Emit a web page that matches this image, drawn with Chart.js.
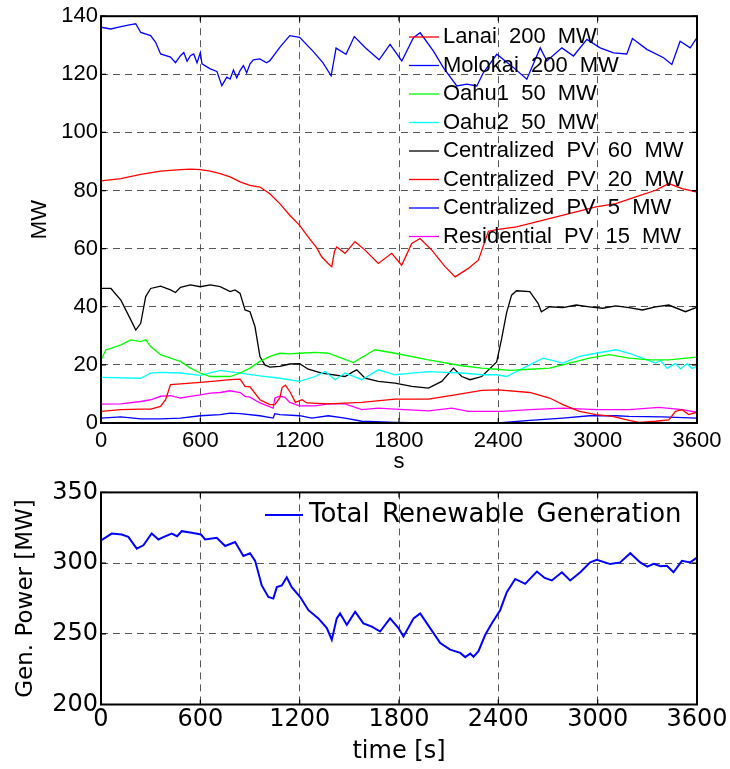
<!DOCTYPE html>
<html lang="en">
<head>
<meta charset="UTF-8">
<title>Renewable generation</title>
<script src="https://cdn.jsdelivr.net/npm/chart.js"></script>
<style>
  body { margin: 0; background: #fff; }
  .wrap { position: relative; width: 730px; height: 769px; }
  #topChart { position: absolute; left: 0; top: 0; }
  #bottomChart { position: absolute; left: 0; top: 475px; }
</style>
</head>
<body>
<div class="wrap">
  <canvas id="topChart" width="730" height="475"></canvas>
  <canvas id="bottomChart" width="730" height="294"></canvas>
</div>
<script>
// ---- data (time in s, power in MW) ----
const xTicks = [0, 600, 1200, 1800, 2400, 3000, 3600];
const topYTicks = [0, 20, 40, 60, 80, 100, 120, 140];
const bottomYTicks = [200, 250, 300, 350];

const lanaiT = [0, 120, 240, 360, 480, 540, 600, 660, 720, 780, 840, 900, 960, 1020, 1080, 1140, 1200, 1252, 1300, 1333, 1370, 1394, 1410, 1424, 1474, 1534, 1595, 1675, 1756, 1816, 1877, 1927, 1998, 2078, 2139, 2219, 2280, 2340, 2400, 2510, 2630, 2750, 2870, 2990, 3110, 3230, 3350, 3430, 3510, 3600];
const lanaiMW = [83.3, 84.1, 85.6, 86.7, 87.2, 87.4, 87.2, 86.7, 85.8, 84.7, 83, 81.8, 81.2, 78.9, 75.5, 71.5, 68, 64, 60.5, 57.2, 55, 53.8, 59, 60.6, 58.4, 62.4, 59.5, 54.9, 58.4, 54.3, 61.8, 63.5, 59.5, 53.8, 50.3, 53.2, 56.1, 66, 66.6, 67.5, 69.2, 70.9, 72.7, 74.4, 75.5, 77.8, 80.1, 82.4, 80.7, 79.5];

const molokaiT = [0, 60, 120, 180, 210, 240, 300, 330, 360, 420, 450, 480, 500, 520, 540, 560, 580, 600, 610, 660, 700, 730, 760, 780, 800, 820, 840, 860, 880, 900, 920, 960, 1000, 1020, 1080, 1140, 1200, 1280, 1340, 1390, 1420, 1480, 1530, 1600, 1680, 1746, 1817, 1887, 1928, 2008, 2068, 2149, 2210, 2270, 2310, 2391, 2492, 2572, 2653, 2693, 2784, 2854, 2935, 3015, 3096, 3176, 3210, 3297, 3398, 3448, 3498, 3559, 3600];
const molokaiMW = [136.2, 135.6, 136.4, 137.1, 137.4, 134.4, 133.3, 131, 127, 125.9, 124, 126.4, 127.5, 124.5, 126.4, 127, 124, 127.5, 123.6, 121.9, 121, 116.1, 119, 118.4, 121.5, 118.8, 121.3, 123, 120.5, 123.6, 125, 125.3, 124, 124.7, 129.3, 133.3, 132.7, 128, 124, 119.5, 129, 126.9, 133, 129, 125, 130.3, 124.6, 132.6, 134.3, 128, 122.3, 116, 116.6, 116, 120.6, 126.9, 122.3, 118.3, 129.1, 124.6, 129.1, 126.3, 132, 129.1, 127.4, 127, 132.3, 128.6, 125.7, 123.4, 131.4, 129.1, 132.6];

const oahu1T = [0, 30, 60, 120, 180, 240, 270, 300, 360, 420, 480, 540, 600, 660, 720, 780, 840, 900, 960, 1020, 1080, 1140, 1200, 1293, 1373, 1454, 1524, 1655, 1776, 1978, 2179, 2300, 2390, 2470, 2590, 2710, 2830, 2950, 3070, 3190, 3310, 3430, 3600];
const oahu1MW = [21.7, 25.2, 25.7, 26.9, 28.6, 28, 28.6, 26.3, 23.5, 22.3, 21.2, 18.9, 17.2, 16, 16, 16, 17.2, 18.9, 21.2, 22.9, 24, 23.8, 24, 24.3, 24, 22.3, 20.8, 25.2, 24, 21.7, 19.7, 18.9, 18.5, 18.1, 18.5, 18.9, 20.6, 22.3, 23.5, 22.3, 21.7, 21.7, 22.7];

const oahu2T = [0, 240, 300, 360, 480, 600, 720, 840, 960, 1080, 1200, 1293, 1353, 1414, 1474, 1575, 1675, 1776, 1877, 1978, 2078, 2179, 2300, 2390, 2450, 2550, 2670, 2790, 2890, 2990, 3110, 3190, 3270, 3350, 3380, 3420, 3470, 3500, 3540, 3570, 3600];
const oahu2MW = [15.7, 15.4, 17.2, 17.4, 17.2, 16.4, 18.1, 17.2, 16.2, 15.4, 14.3, 16, 17.7, 14.9, 17.2, 14.9, 18.3, 16.6, 17.2, 17.7, 17.4, 17.2, 16.6, 16.6, 16, 18.9, 22.3, 20.6, 22.9, 24, 25.2, 24, 22.3, 20.6, 21.5, 18.8, 20.5, 18.6, 20.4, 18.8, 19.5];

const cpv60T = [0, 60, 120, 180, 210, 240, 270, 300, 360, 420, 450, 480, 540, 600, 660, 720, 780, 810, 840, 870, 900, 930, 960, 990, 1020, 1080, 1140, 1200, 1252, 1333, 1474, 1524, 1545, 1595, 1675, 1776, 1877, 1978, 2058, 2129, 2179, 2229, 2300, 2390, 2420, 2450, 2480, 2510, 2590, 2640, 2660, 2710, 2790, 2870, 2950, 3030, 3110, 3190, 3270, 3350, 3430, 3530, 3600];
const cpv60MW = [46.3, 46.3, 42.3, 35.5, 32, 34.3, 43.5, 46.3, 47.1, 45.8, 44.9, 46.7, 47.5, 46.9, 47.5, 46.9, 45.2, 45.8, 44.6, 38.9, 38.3, 33.2, 22.9, 20, 19.2, 19.5, 20.3, 20.4, 18.5, 17.2, 16, 17.7, 18.3, 15.4, 14.3, 13.7, 12.6, 12, 14.3, 18.9, 16, 14.9, 16, 21, 29, 38, 44, 45.5, 45.2, 41.2, 38.3, 40, 39.7, 40.6, 40, 39.5, 40.3, 39.7, 38.9, 40, 40.6, 38.3, 39.8];

const cpv20T = [0, 120, 240, 300, 360, 390, 420, 480, 600, 720, 780, 840, 870, 900, 960, 1020, 1050, 1080, 1094, 1114, 1144, 1174, 1214, 1244, 1373, 1575, 1776, 1978, 2139, 2300, 2400, 2590, 2710, 2790, 2890, 2990, 3090, 3190, 3250, 3350, 3430, 3470, 3510, 3550, 3600];
const cpv20MW = [4, 4.6, 4.8, 4.8, 5.7, 8, 13.2, 13.5, 14, 14.6, 14.9, 15.1, 12.6, 12.4, 8, 6.3, 6.3, 8.6, 12.2, 13, 10.5, 7.1, 8, 6.9, 6.6, 7.1, 8.2, 8.2, 9.7, 11.2, 11.4, 10.5, 8.6, 6.3, 4, 2.9, 2.3, 0.9, 0.2, 0.6, 1.1, 4, 4.6, 2.9, 3.7];

const cpv5T = [0, 120, 240, 360, 480, 600, 720, 780, 840, 960, 1040, 1050, 1080, 1200, 1273, 1373, 1474, 1575, 1776, 1978, 2179, 2400, 2590, 2790, 2950, 3110, 3190, 3390, 3600];
const cpv5MW = [1.7, 2.1, 1.4, 1.4, 1.7, 2.5, 2.9, 3.4, 3.2, 2.5, 1.7, 3.2, 2.9, 2.5, 1.7, 2.5, 1.7, 0.6, 0.2, 0, 0, 0, 0.9, 1.7, 2.5, 2.5, 2.3, 2.1, 1.7];

const resT = [0, 120, 240, 300, 360, 420, 480, 540, 600, 660, 720, 780, 840, 870, 900, 960, 1040, 1050, 1080, 1110, 1140, 1200, 1293, 1373, 1474, 1575, 1675, 1776, 1978, 2119, 2219, 2421, 2590, 2790, 2990, 3190, 3370, 3510, 3600];
const resMW = [6.5, 6.6, 7.4, 8, 9.2, 9.4, 8.6, 9.2, 9.7, 10.3, 10.5, 11.1, 10.5, 9.2, 8.9, 6.9, 5.1, 8.6, 9.2, 8.9, 7.1, 5.9, 5.9, 6.6, 6.6, 4.6, 5.1, 4.8, 4.2, 5.1, 4, 4, 4.6, 5.1, 4.6, 4.6, 5.4, 4.6, 3.7];

const totalT = [0, 65, 125, 165, 216, 256, 306, 347, 380, 427, 460, 488, 548, 604, 629, 699, 750, 810, 860, 900, 931, 971, 1011, 1041, 1062, 1092, 1122, 1152, 1203, 1253, 1313, 1364, 1394, 1424, 1444, 1485, 1535, 1585, 1636, 1686, 1746, 1797, 1827, 1888, 1928, 1988, 2049, 2109, 2170, 2200, 2230, 2250, 2280, 2321, 2361, 2411, 2451, 2502, 2562, 2633, 2680, 2723, 2784, 2834, 2895, 2955, 2995, 3076, 3136, 3197, 3257, 3300, 3338, 3380, 3418, 3458, 3509, 3559, 3600];
const totalMW = [316, 320.9, 320.2, 318.6, 310.2, 312.6, 320.9, 316.7, 318.5, 320.9, 319, 322.6, 321.4, 320.2, 316.7, 317.9, 312.1, 314.9, 305.1, 307, 301.6, 284.2, 276, 274.9, 283, 284.2, 290, 283, 276, 266.7, 260.9, 254, 245.8, 260.9, 264.4, 256.3, 265.6, 257.4, 255.1, 251.6, 260.9, 254, 248.1, 260.9, 264.4, 254, 243.5, 238.8, 236.5, 233.5, 236, 233.8, 237.7, 249.3, 257.4, 266.7, 279.5, 288.8, 285.3, 294, 289.5, 287.7, 293.5, 287.7, 293.5, 300.5, 302.3, 299.3, 300.5, 307, 300.5, 297.5, 299.5, 297.8, 298.1, 293.5, 301.6, 300.5, 304];

// ---- helpers ----
const pts = (ts, vs) => ts.map((t, i) => ({ x: t, y: vs[i] }));

function line(label, ts, vs, color, width) {
  return { label: label, data: pts(ts, vs), borderColor: color, backgroundColor: color,
           borderWidth: width, pointRadius: 0, tension: 0, fill: false };
}

// MATLAB-like box with inward tick marks
const framePlugin = {
  id: 'frame',
  afterDatasetsDraw(chart) {
    const { ctx, chartArea: a, scales } = chart;
    ctx.save();
    ctx.strokeStyle = '#000';
    ctx.lineWidth = 1.2;
    ctx.beginPath();
    scales.x.ticks.forEach(t => {
      const px = scales.x.getPixelForValue(t.value);
      ctx.moveTo(px, a.bottom); ctx.lineTo(px, a.bottom - 5);
      ctx.moveTo(px, a.top); ctx.lineTo(px, a.top + 5);
    });
    scales.y.ticks.forEach(t => {
      const py = scales.y.getPixelForValue(t.value);
      ctx.moveTo(a.left, py); ctx.lineTo(a.left + 5, py);
      ctx.moveTo(a.right, py); ctx.lineTo(a.right - 5, py);
    });
    ctx.stroke();
    ctx.lineWidth = 2;
    ctx.strokeRect(a.left, a.top, a.right - a.left, a.bottom - a.top);
    ctx.restore();
  }
};

// legend drawn inside the axes, no background
const innerLegend = {
  id: 'innerLegend',
  afterDraw(chart, args, opts) {
    const ctx = chart.ctx;
    ctx.save();
    ctx.font = opts.font;
    ctx.textBaseline = 'middle';
    if ('wordSpacing' in ctx) ctx.wordSpacing = opts.wordSpacing;
    chart.data.datasets.forEach((ds, i) => {
      const y = opts.y + i * opts.rowH;
      ctx.strokeStyle = ds.borderColor;
      ctx.lineWidth = ds.borderWidth;
      ctx.beginPath();
      ctx.moveTo(opts.x, y);
      ctx.lineTo(opts.x + opts.lineLen, y);
      ctx.stroke();
      ctx.fillStyle = '#000';
      ctx.fillText(ds.label, opts.x + opts.lineLen + opts.gap, y);
    });
    ctx.restore();
  }
};

const gridOpts = { color: 'rgba(70,70,70,0.9)', lineWidth: 1, drawTicks: false };
const borderOpts = { display: false, dash: [7, 5] };
const plain = v => String(v);

// ---- top: individual plants ----
new Chart(document.getElementById('topChart'), {
  type: 'line',
  data: {
    datasets: [
      line('Lanai 200 MW', lanaiT, lanaiMW, '#ff0000', 1.3),
      line('Molokai 200 MW', molokaiT, molokaiMW, '#0000ff', 1.3),
      line('Oahu1 50 MW', oahu1T, oahu1MW, '#00ff00', 1.3),
      line('Oahu2 50 MW', oahu2T, oahu2MW, '#00ffff', 1.3),
      line('Centralized PV 60 MW', cpv60T, cpv60MW, '#000000', 1.3),
      line('Centralized PV 20 MW', cpv20T, cpv20MW, '#ff0000', 1.3),
      line('Centralized PV 5 MW', cpv5T, cpv5MW, '#0000ff', 1.3),
      line('Residential PV 15 MW', resT, resMW, '#ff00ff', 1.3)
    ]
  },
  options: {
    responsive: false,
    animation: false,
    layout: { padding: { left: 0, right: 33, top: 15, bottom: 0 } },
    plugins: {
      legend: { display: false },
      tooltip: { enabled: false },
      innerLegend: { x: 409, y: 37, rowH: 28.5, lineLen: 30, gap: 4,
                     font: '22px "Liberation Sans", Arial, sans-serif', wordSpacing: '6px' }
    },
    scales: {
      x: {
        type: 'linear', min: 0, max: 3600,
        afterBuildTicks: s => { s.ticks = xTicks.map(v => ({ value: v })); },
        ticks: { color: '#000', padding: 5, maxRotation: 0, autoSkip: false, callback: plain,
                 font: { family: 'Liberation Sans', size: 22 } },
        grid: gridOpts, border: borderOpts,
        title: { display: true, text: 's', color: '#000', padding: 0,
                 font: { family: 'Liberation Sans', size: 22 } },
        afterFit: s => { s.height = 52; }
      },
      y: {
        min: 0, max: 140,
        afterBuildTicks: s => { s.ticks = topYTicks.map(v => ({ value: v })); },
        ticks: { color: '#000', padding: 3, callback: plain,
                 font: { family: 'Liberation Sans', size: 22 } },
        grid: gridOpts, border: borderOpts,
        title: { display: true, text: 'MW', color: '#000', padding: { top: 27, bottom: 0 },
                 font: { family: 'Liberation Sans', size: 22 } },
        afterFit: s => { s.width = 101; }
      }
    }
  },
  plugins: [framePlugin, innerLegend]
});

// ---- bottom: total renewable generation ----
new Chart(document.getElementById('bottomChart'), {
  type: 'line',
  data: {
    datasets: [ line('Total Renewable Generation', totalT, totalMW, '#0000ff', 2) ]
  },
  options: {
    responsive: false,
    animation: false,
    layout: { padding: { left: 0, right: 33, top: 15, bottom: 0 } },
    plugins: {
      legend: { display: false },
      tooltip: { enabled: false },
      innerLegend: { x: 265, y: 40, rowH: 30, lineLen: 38, gap: 6,
                     font: '26px "DejaVu Sans", sans-serif', wordSpacing: '4px' }
    },
    scales: {
      x: {
        type: 'linear', min: 0, max: 3600,
        afterBuildTicks: s => { s.ticks = xTicks.map(v => ({ value: v })); },
        ticks: { color: '#000', padding: 1, maxRotation: 0, autoSkip: false, callback: plain,
                 font: { family: 'DejaVu Sans', size: 24 } },
        grid: gridOpts, border: borderOpts,
        title: { display: true, text: 'time [s]', color: '#000', padding: { top: 0, bottom: 3 },
                 font: { family: 'DejaVu Sans', size: 24 } },
        afterFit: s => { s.height = 64.5; }
      },
      y: {
        min: 200, max: 350,
        afterBuildTicks: s => { s.ticks = bottomYTicks.map(v => ({ value: v })); },
        ticks: { color: '#000', padding: 3, callback: plain,
                 font: { family: 'DejaVu Sans', size: 24 } },
        grid: gridOpts, border: borderOpts,
        title: { display: true, text: 'Gen. Power [MW]', color: '#000', padding: { top: 12, bottom: 0 },
                 font: { family: 'DejaVu Sans', size: 23 } },
        afterFit: s => { s.width = 101; }
      }
    }
  },
  plugins: [framePlugin, innerLegend]
});
</script>
</body>
</html>
